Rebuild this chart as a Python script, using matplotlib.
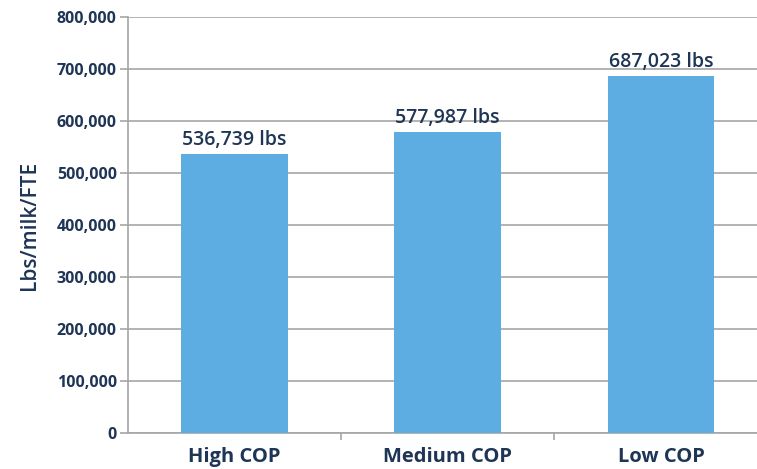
import matplotlib.pyplot as plt
from matplotlib.ticker import MultipleLocator, FuncFormatter, FixedLocator

categories = ["High COP", "Medium COP", "Low COP"]
values = [536739, 577987, 687023]

bar_color = "#5DADE2"
text_color = "#1E3556"
grid_color = "#A6A6A6"

plt.rcParams['font.family'] = ['Open Sans', 'DejaVu Sans']

fig = plt.figure(figsize=(7.57, 4.69), dpi=100)
ax = fig.add_axes([0.169, 0.0768, 0.831, 0.887])

x = range(len(categories))
ax.bar(x, values, width=0.5, color=bar_color, zorder=3)

for i, v in enumerate(values):
    ax.text(i, v + 8000, f"{v:,} lbs", ha='center', va='bottom',
            fontsize=14, fontweight='semibold', color=text_color, zorder=4)

ax.set_xlim(-0.5, 2.45)
ax.set_ylim(0, 800000)
ax.yaxis.set_major_locator(MultipleLocator(100000))
ax.yaxis.set_major_formatter(FuncFormatter(lambda v, p: f"{int(v):,}"))
ax.grid(axis='y', color=grid_color, linewidth=1.2, zorder=0)

ax.set_xticks(list(x))
ax.set_xticklabels(categories, fontsize=14.5, fontweight='bold', color=text_color)
ax.xaxis.set_minor_locator(FixedLocator([0.5, 1.5]))
ax.tick_params(axis='x', which='major', length=0, pad=10)
ax.tick_params(axis='x', which='minor', length=5, color=grid_color, width=1.2)
ax.tick_params(axis='y', length=6, color=grid_color, width=1.2, pad=2,
               labelsize=11.5, labelcolor=text_color)
for lab in ax.get_yticklabels():
    lab.set_fontweight('bold')

for side in ['top', 'right']:
    ax.spines[side].set_visible(False)
for side in ['left', 'bottom']:
    ax.spines[side].set_color(grid_color)
    ax.spines[side].set_linewidth(1.2)

ax.set_ylabel("Lbs/milk/FTE", fontsize=15, fontweight='semibold', color=text_color, labelpad=12)

fig.savefig("out.png", dpi=100)
